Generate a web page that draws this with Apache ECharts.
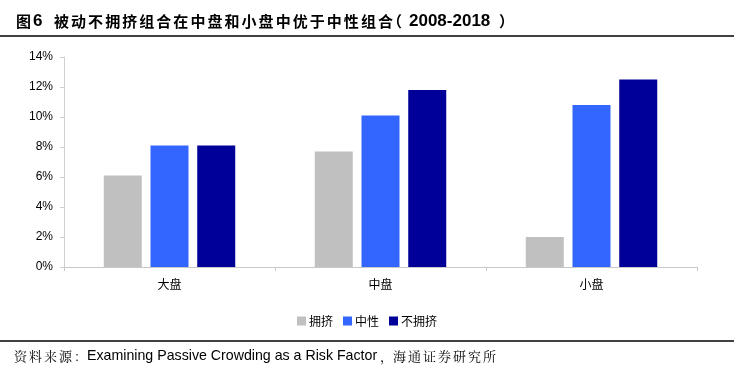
<!DOCTYPE html>
<html><head><meta charset="utf-8">
<script src="https://cdn.jsdelivr.net/npm/echarts@6/dist/echarts.min.js"></script>
<style>html,body{margin:0;padding:0;background:#fff}#c{width:734px;height:368px}</style>
</head><body><div id="c"></div>
<script>
const categories = ['大盘', '中盘', '小盘'];
const crowded = [6.1, 7.7, 2.0];
const neutral = [8.1, 10.1, 10.8];
const uncrowded = [8.1, 11.8, 12.5];
const seriesNames = ['拥挤', '中性', '不拥挤'];
const yTicks = [0, 2, 4, 6, 8, 10, 12, 14];
const titleLabel = '图6';
const titleMain = '被动不拥挤组合在中盘和小盘中优于中性组合';
const titleYears = '2008-2018';
const sourcePrefix = '资料来源：';
const sourceLatin = 'Examining Passive Crowding as a Risk Factor';
const sourceSuffix = '海通证券研究所';

const chart = echarts.init(document.getElementById('c'));
const cjk = '"Noto Sans CJK SC", sans-serif';

function spaced(text, x0, y, pitch, font, color) {
  return Array.from(text).map((ch, i) => ({
    type: 'text', x: x0 + i * pitch, y: y,
    style: {text: ch, font: font, fill: color || '#000', textVerticalAlign: 'middle'}
  }));
}
const titleFontCJK = 'bold 15px "Noto Sans CJK SC", sans-serif';
const titleFontLat = 'bold 17px Arial, "Liberation Sans", sans-serif';
const srcFontCJK = '13px "Noto Serif CJK SC", "Noto Sans CJK SC", serif';

const graphics = [].concat(
  [{type: 'text', x: 16, y: 21, style: {text: titleLabel.charAt(0), font: titleFontCJK, fill: '#000', textVerticalAlign: 'middle'}},
   {type: 'text', x: 33, y: 21, style: {text: titleLabel.charAt(1), font: titleFontLat, fill: '#000', textVerticalAlign: 'middle'}}],
  spaced(titleMain, 54, 21, 17.05, titleFontCJK),
  [{type: 'text', x: 387, y: 21, style: {text: '（', font: titleFontCJK, fill: '#000', textVerticalAlign: 'middle'}},
   {type: 'text', x: 409, y: 21, style: {text: titleYears, font: titleFontLat, fill: '#000', textVerticalAlign: 'middle'}},
   {type: 'text', x: 499, y: 21, style: {text: '）', font: titleFontCJK, fill: '#000', textVerticalAlign: 'middle'}},
   {type: 'line', shape: {x1: 0, y1: 36, x2: 734, y2: 36}, style: {stroke: '#000', lineWidth: 1.5}},
   {type: 'line', shape: {x1: 0, y1: 341, x2: 734, y2: 341}, style: {stroke: '#000', lineWidth: 1.5}}],
  spaced(sourcePrefix, 14, 356, 15, srcFontCJK),
  [{type: 'text', x: 87, y: 356, style: {text: sourceLatin, font: '14.2px Arial, "Liberation Sans", sans-serif', fill: '#000', textVerticalAlign: 'middle'}},
   {type: 'text', x: 380, y: 356, style: {text: '，', font: srcFontCJK, fill: '#000', textVerticalAlign: 'middle'}}],
  spaced(sourceSuffix, 393, 356, 15, srcFontCJK)
);

chart.setOption({
  animation: false,
  graphic: graphics,
  legend: {
    data: seriesNames, top: 310, left: 'center', itemWidth: 9, itemHeight: 9, itemGap: 10,
    icon: 'rect', textStyle: {fontFamily: cjk, fontSize: 12, color: '#000', padding: [0,0,0,-2]}
  },
  grid: {left: 64, right: 37, top: 57, bottom: 101},
  xAxis: {
    type: 'category', data: categories,
    axisLine: {lineStyle: {color: '#c8c8c8'}},
    axisTick: {show: true, length: 4, lineStyle: {color: '#c8c8c8'}},
    axisLabel: {fontFamily: cjk, fontSize: 12, color: '#000', margin: 11}
  },
  yAxis: {
    type: 'value', min: yTicks[0], max: yTicks[yTicks.length - 1], interval: 2,
    axisLine: {show: true, lineStyle: {color: '#d0d0d0'}},
    axisTick: {show: true, length: 4, lineStyle: {color: '#d0d0d0'}},
    splitLine: {show: false},
    axisLabel: {fontFamily: 'Arial, "Liberation Sans", sans-serif', fontSize: 12, color: '#000', margin: 11, formatter: v => v + '%'}
  },
  series: [
    {name: seriesNames[0], type: 'bar', data: crowded, itemStyle: {color: '#c0c0c0'}, barWidth: 38, barGap: '23%'},
    {name: seriesNames[1], type: 'bar', data: neutral, itemStyle: {color: '#3366ff'}, barWidth: 38, barGap: '23%'},
    {name: seriesNames[2], type: 'bar', data: uncrowded, itemStyle: {color: '#000099'}, barWidth: 38, barGap: '23%'}
  ]
});
</script></body></html>
